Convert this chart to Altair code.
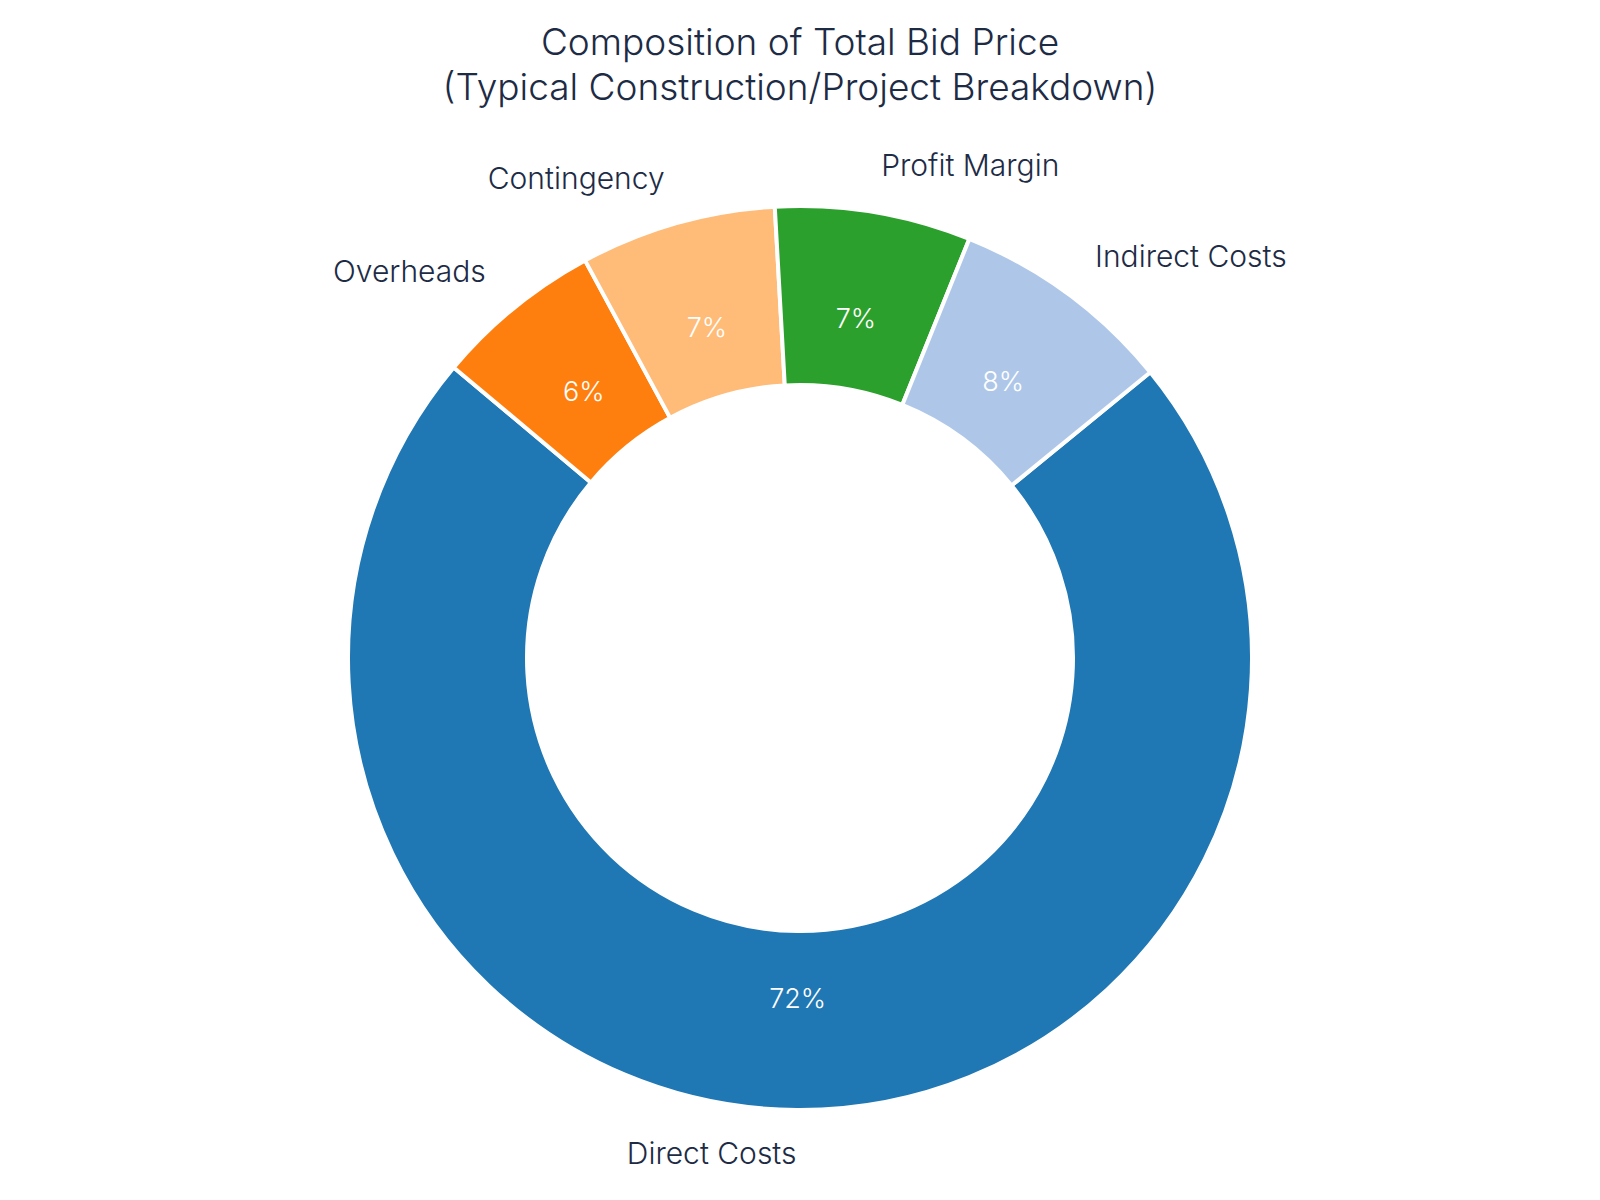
import math
import altair as alt
import pandas as pd

# Slices listed clockwise, starting from the upper right edge of "Direct Costs"
categories = ["Direct Costs", "Overheads", "Contingency", "Profit Margin", "Indirect Costs"]
shares = [72, 6, 7, 7, 8]
colors = ["#1f77b4", "#ff7f0e", "#ffbb78", "#2ca02c", "#aec7e8"]
title_lines = ["Composition of Total Bid Price", "(Typical Construction/Project Breakdown)"]

START = math.radians(50.8)
TAU = 2 * math.pi
OUTER, INNER = 452, 273
FONT = "Inter"
WEIGHT = 300
INK = "#1d2b45"

df = pd.DataFrame({"category": categories, "share": shares, "order": list(range(len(categories)))})

base = (
    alt.Chart(df)
    .transform_joinaggregate(total="sum(share)")
    .transform_window(cum="sum(share)", sort=[alt.SortField("order")], frame=[None, 0])
    .transform_calculate(
        a0=f"{START} + {TAU} * (datum.cum - datum.share) / datum.total",
        a1=f"{START} + {TAU} * datum.cum / datum.total",
    )
    .transform_calculate(
        mid="(datum.a0 + datum.a1) / 2",
        pct="format(datum.share / datum.total, '.0%')",
    )
)

color = alt.Color("category:N", scale=alt.Scale(domain=categories, range=colors), legend=None)

arcs = base.mark_arc(
    outerRadius=OUTER, innerRadius=INNER, stroke="white", strokeWidth=4
).encode(
    theta=alt.Theta("a0:Q", scale=None),
    theta2="a1:Q",
    color=color,
)

pct_labels = base.mark_text(
    radius=0.757 * OUTER, font=FONT, fontSize=27, fontWeight=WEIGHT, color="white",
    align="center", baseline="middle"
).encode(theta=alt.Theta("mid:Q", scale=None), text="pct:N")

right_names = base.transform_filter("sin(datum.mid) >= 0").mark_text(
    radius=1.1 * OUTER, font=FONT, fontSize=30, fontWeight=WEIGHT, color=INK,
    align="left", baseline="middle"
).encode(theta=alt.Theta("mid:Q", scale=None), text="category:N")

left_names = base.transform_filter("sin(datum.mid) < 0").mark_text(
    radius=1.1 * OUTER, font=FONT, fontSize=30, fontWeight=WEIGHT, color=INK,
    align="right", baseline="middle"
).encode(theta=alt.Theta("mid:Q", scale=None), text="category:N")

chart = (
    alt.layer(arcs, pct_labels, right_names, left_names)
    .properties(
        width=1600,
        height=1088,
        padding={"top": 25, "left": 0, "right": 0, "bottom": 0},
        title=alt.TitleParams(
            text=title_lines,
            font=FONT,
            fontSize=37,
            lineHeight=45,
            fontWeight=WEIGHT,
            color=INK,
            anchor="middle",
            offset=6,
        ),
    )
    .configure_view(stroke=None)
)

chart.save("out.html", embed_options={"renderer": "svg", "actions": False})
